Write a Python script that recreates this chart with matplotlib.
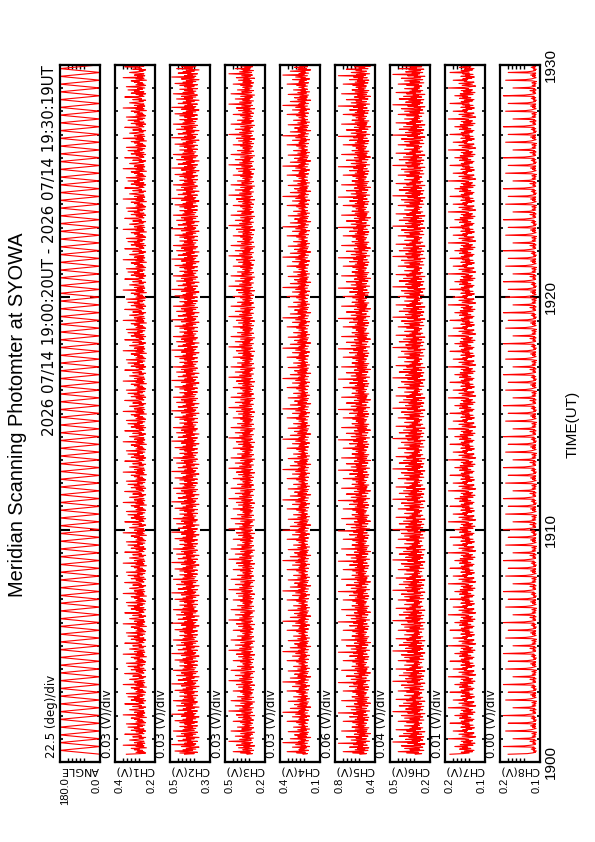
import numpy as np
import matplotlib
matplotlib.use("Agg")
import matplotlib.pyplot as plt
from matplotlib.ticker import FixedLocator, MultipleLocator

W, H = 595, 842
NARROW = ["Liberation Sans Narrow", "DejaVu Sans Condensed", "Liberation Sans"]
WIDE = ["DejaVu Sans"]

TITLE = "Meridian Scanning Photomter at SYOWA"
HEADER = "2026 07/14 19:00:20UT - 2026 07/14 19:30:19UT"
CHANNELS = ["ANGLE", "CH1(V)", "CH2(V)", "CH3(V)", "CH4(V)",
            "CH5(V)", "CH6(V)", "CH7(V)", "CH8(V)"]
DIV_TEXT = ["22.5 (deg)/div", "0.03 (V)/div", "0.03 (V)/div", "0.03 (V)/div",
            "0.03 (V)/div", "0.06 (V)/div", "0.04 (V)/div", "0.01 (V)/div",
            "0.00 (V)/div"]
TICK_HI = [180.0, 0.4, 0.5, 0.5, 0.4, 0.8, 0.5, 0.2, 0.2]
TICK_LO = [0.0, 0.2, 0.3, 0.2, 0.1, 0.4, 0.2, 0.1, 0.1]
HI_LABELS = ["180.0", "0.4", "0.5", "0.5", "0.4", "0.8", "0.5", "0.2", "0.2"]
LO_LABELS = ["0.0", "0.2", "0.3", "0.2", "0.1", "0.4", "0.2", "0.1", "0.1"]

TIME_TICKS = [0, 10, 20, 30]
TIME_LABELS = ["1900", "1910", "1920", "1930"]
START_MIN = 20 / 60          # 19:00:20
END_MIN = 30 + 19 / 60       # 19:30:19
N_SCANS = 90

# one scan of the mirror angle (deg)
ANGLE_SCAN = [-20, 18, 57, 95, 133, 172, 210, 172, 133, 95, 57, 18]

# stretches of samples, repeated along the record
CH1_VALS = [0.36, 0.27, 0.24, 0.30, 0.25, 0.29, 0.26, 0.31, 0.28, 0.33,
            0.235, 0.27, 0.30, 0.25, 0.38, 0.26, 0.29, 0.245, 0.31, 0.27,
            0.25, 0.29, 0.34, 0.30, 0.255, 0.28, 0.24, 0.32, 0.265, 0.27,
            0.29, 0.37, 0.25, 0.28, 0.26, 0.30, 0.24, 0.33, 0.27, 0.25,
            0.31, 0.28, 0.35, 0.26, 0.29, 0.245, 0.28]
CH2_VALS = [0.44, 0.38, 0.47, 0.36, 0.42, 0.50, 0.39, 0.45, 0.37, 0.43,
            0.40, 0.35, 0.46, 0.41, 0.38, 0.52, 0.37, 0.44, 0.39, 0.42,
            0.36, 0.48, 0.40, 0.45, 0.38, 0.43, 0.35, 0.41, 0.49, 0.39,
            0.44, 0.37, 0.46, 0.40, 0.36, 0.43, 0.51, 0.38, 0.45, 0.41,
            0.37, 0.44, 0.39, 0.47, 0.36, 0.42, 0.40]
CH3_VALS = [0.34, 0.29, 0.40, 0.31, 0.47, 0.33, 0.28, 0.38, 0.35, 0.30,
            0.42, 0.32, 0.37, 0.27, 0.44, 0.34, 0.31, 0.39, 0.29, 0.36,
            0.51, 0.33, 0.30, 0.41, 0.35, 0.28, 0.38, 0.32, 0.45, 0.31,
            0.36, 0.29, 0.40, 0.34, 0.27, 0.37, 0.49, 0.33, 0.30, 0.39,
            0.35, 0.28, 0.43, 0.32, 0.36, 0.30, 0.38]
CH4_VALS = [0.23, 0.19, 0.29, 0.21, 0.38, 0.24, 0.18, 0.27, 0.22, 0.26,
            0.20, 0.33, 0.17, 0.25, 0.21, 0.30, 0.24, 0.19, 0.42, 0.22,
            0.27, 0.18, 0.25, 0.21, 0.35, 0.23, 0.16, 0.28, 0.20, 0.24,
            0.31, 0.19, 0.26, 0.22, 0.18, 0.37, 0.23, 0.20, 0.28, 0.17,
            0.25, 0.21, 0.32, 0.19, 0.24, 0.22, 0.27]
CH5_VALS = [0.55, 0.47, 0.64, 0.50, 0.76, 0.53, 0.45, 0.61, 0.49, 0.58,
            0.44, 0.68, 0.52, 0.57, 0.46, 0.63, 0.51, 0.82, 0.48, 0.59,
            0.43, 0.55, 0.66, 0.50, 0.47, 0.60, 0.53, 0.72, 0.45, 0.56,
            0.49, 0.62, 0.42, 0.54, 0.58, 0.47, 0.78, 0.51, 0.46, 0.61,
            0.53, 0.44, 0.65, 0.50, 0.57, 0.48, 0.60]
CH6_VALS = [0.31, 0.25, 0.39, 0.28, 0.47, 0.33, 0.23, 0.36, 0.27, 0.41,
            0.30, 0.24, 0.35, 0.44, 0.26, 0.32, 0.22, 0.38, 0.29, 0.52,
            0.27, 0.34, 0.24, 0.40, 0.31, 0.26, 0.37, 0.23, 0.46, 0.30,
            0.35, 0.25, 0.42, 0.28, 0.33, 0.22, 0.39, 0.31, 0.49, 0.26,
            0.36, 0.24, 0.34, 0.29, 0.41, 0.27, 0.32]
# CH7, CH8: four whole scans, one bright spike per scan
CH7_VALS = [0.2, 0.16, 0.14, 0.165, 0.13, 0.155, 0.125, 0.15, 0.17, 0.135, 0.16, 0.145,
            0.185, 0.15, 0.128, 0.168, 0.14, 0.122, 0.158, 0.135, 0.165, 0.13, 0.15, 0.142,
            0.205, 0.155, 0.135, 0.12, 0.162, 0.145, 0.13, 0.172, 0.14, 0.125, 0.155, 0.148,
            0.19, 0.145, 0.16, 0.132, 0.15, 0.124, 0.166, 0.138, 0.152, 0.128, 0.16, 0.14]
CH8_VALS = [0.19, 0.13, 0.115, 0.105, 0.11, 0.102, 0.112, 0.108, 0.118, 0.104, 0.113, 0.109,
            0.205, 0.14, 0.12, 0.108, 0.104, 0.113, 0.106, 0.11, 0.122, 0.103, 0.111, 0.107,
            0.175, 0.125, 0.112, 0.104, 0.115, 0.106, 0.109, 0.103, 0.116, 0.108, 0.102, 0.114,
            0.198, 0.135, 0.118, 0.11, 0.103, 0.108, 0.114, 0.105, 0.12, 0.106, 0.112, 0.104]

SERIES = [ANGLE_SCAN, CH1_VALS, CH2_VALS, CH3_VALS, CH4_VALS,
          CH5_VALS, CH6_VALS, CH7_VALS, CH8_VALS]


def px_box(x0, y0, w, h):
    return [x0 / W, 1 - (y0 + h) / H, w / W, h / H]


n = len(ANGLE_SCAN) * N_SCANS
t = np.linspace(START_MIN, END_MIN, n)

fig = plt.figure(figsize=(W / 100, H / 100), dpi=100)

for i, name in enumerate(CHANNELS):
    x0 = 60 + 55 * i
    ax = fig.add_axes(px_box(x0, 65, 40, 697))
    ax.plot(np.resize(SERIES[i], n), t, color="red", lw=0.8)

    hi, lo = TICK_HI[i], TICK_LO[i]
    span = (hi - lo) / 0.8
    left_lim, right_lim = hi + 0.125 * span, lo - 0.075 * span
    ax.set_xlim(left_lim, right_lim)
    ax.set_ylim(0, 30)

    ax.xaxis.set_major_locator(FixedLocator([hi, lo]))
    ax.set_xticklabels([HI_LABELS[i], LO_LABELS[i]], rotation=90,
                       family=NARROW, fontsize=8)
    ax.xaxis.set_minor_locator(FixedLocator(
        [left_lim - k * span / 10 for k in range(2, 7)]))
    ax.tick_params(axis="x", which="major", length=0, pad=11)
    ax.tick_params(axis="x", which="minor", direction="in", length=3,
                   width=1, top=True, bottom=True)

    ax.yaxis.set_major_locator(FixedLocator(TIME_TICKS))
    ax.yaxis.set_minor_locator(MultipleLocator(1))
    ax.tick_params(axis="y", which="major", direction="in", length=7,
                   width=1.5, left=True, right=True)
    ax.tick_params(axis="y", which="minor", direction="in", length=2.5,
                   width=1.2, left=True, right=True)
    if i == len(CHANNELS) - 1:
        ax.set_yticklabels(TIME_LABELS, rotation=90, family=NARROW,
                           fontsize=11, va="center")
        ax.tick_params(axis="y", labelleft=False, labelright=True, pad=3)
    else:
        ax.tick_params(axis="y", labelleft=False)

    for s in ax.spines.values():
        s.set_linewidth(1.6)

    ax.text(0.5, -8 / 697, name, transform=ax.transAxes, rotation=180,
            ha="center", va="center", family=WIDE, fontsize=8)
    fig.text((x0 - 2) / W, 1 - 758 / H, DIV_TEXT[i], rotation=90,
             ha="right", va="bottom", family=WIDE, fontsize=8.5)

fig.text(57 / W, 1 - 65 / H, HEADER, rotation=90, ha="right", va="top",
         family=WIDE, fontsize=10.8)
fig.text(18 / W, 1 - 415 / H, TITLE, rotation=90, ha="center", va="center",
         family=NARROW, fontsize=14.4)
fig.text(573 / W, 1 - 424 / H, "TIME(UT)", rotation=90, ha="center",
         va="center", family=NARROW, fontsize=11)

fig.savefig("out.png", dpi=100)
